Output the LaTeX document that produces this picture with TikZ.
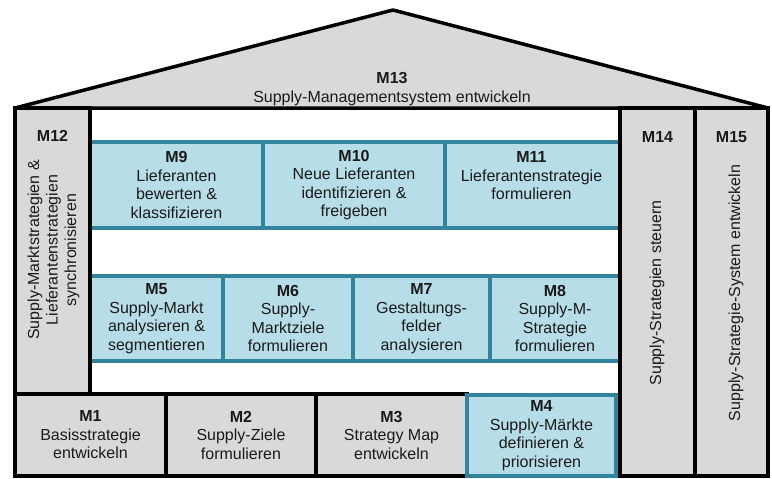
\documentclass[tikz,border=0pt]{standalone}
\usepackage{fontspec}
\setmainfont{Liberation Sans}
\usetikzlibrary{calc}
\definecolor{roofgray}{HTML}{D9D9D9}
\definecolor{tealfill}{HTML}{B7DDE8}
\definecolor{tealline}{HTML}{31849B}
\definecolor{txtcol}{HTML}{1A1A1A}
\begin{document}
\begin{tikzpicture}[x=1pt,y=-1pt,
  graybox/.style={draw=black, line width=3.5pt, fill=roofgray, inner sep=0pt, rectangle, text=txtcol, align=center, font=\fontsize{16}{18.5}\selectfont},
  tealbox/.style={draw=tealline, line width=3.5pt, fill=tealfill, inner sep=0pt, rectangle, text=txtcol, align=center, font=\fontsize{16}{18.5}\selectfont},
  txt/.style={align=center, inner sep=0pt, text=txtcol, font=\fontsize{16}{18.5}\selectfont},
  ttl/.style={inner sep=0pt, text=txtcol, font=\fontsize{16}{18.5}\selectfont\bfseries},
  roofline/.style={draw=black, line width=3.5pt, fill=roofgray, line join=round}
]
\useasboundingbox (0,0) rectangle (772,479);

% roof
\draw[roofline] (15,108) -- (393,10) -- (768,108) -- cycle;
\node[txt] (m13) at (392,89) {\textbf{M13}\\Supply-Managementsystem entwickeln};

% upper teal row
\node[tealbox, minimum width=173pt, minimum height=86pt] (m9) at (176.5,185) {\textbf{M9}\\Lieferanten\\bewerten \&\\klassifizieren};
\node[tealbox, minimum width=182pt, minimum height=86pt] (m10) at (354,185) {\textbf{M10}\\Neue Lieferanten\\identifizieren \&\\freigeben};
\node[tealbox, minimum width=175pt, minimum height=86pt] (m11) at (532.5,185) {};
\node[txt] (m11t) at (531.5,176) {\textbf{M11}\\Lieferantenstrategie\\formulieren};

% lower teal row
\node[tealbox, minimum width=133pt, minimum height=85pt] (m5) at (156.5,318.5) {\textbf{M5}\\Supply-Markt\\analysieren \&\\segmentieren};
\node[tealbox, minimum width=130pt, minimum height=85pt] (m6) at (288,318.5) {\textbf{M6}\\Supply-\\Marktziele\\formulieren};
\node[tealbox, minimum width=137pt, minimum height=85pt] (m7) at (421.5,318.5) {\textbf{M7}\\Gestaltungs-\\felder\\analysieren};
\node[tealbox, minimum width=130pt, minimum height=85pt] (m8) at (555,318.5) {\textbf{M8}\\Supply-M-\\Strategie\\formulieren};

% left column
\node[graybox, minimum width=75pt, minimum height=286pt] (m12) at (52.5,251) {};
\node[ttl] (m12h) at (52.5,136) {M12};
\node[txt, rotate=90] (m12t) at (53.5,250) {Supply-Marktstrategien \&\\Lieferantenstrategien\\synchronisieren};

% bottom row
\node[graybox, minimum width=151pt, minimum height=82pt] (m1) at (90.5,435) {\textbf{M1}\\Basisstrategie\\entwickeln};
\node[graybox, minimum width=150pt, minimum height=82pt] (m2) at (241,435) {\textbf{M2}\\Supply-Ziele\\formulieren};
\node[graybox, minimum width=151pt, minimum height=82pt] (m3) at (391.5,435) {\textbf{M3}\\Strategy Map\\entwickeln};
\node[tealbox, minimum width=149pt, minimum height=81pt] (m4) at (541.5,435.5) {\textbf{M4}\\Supply-Märkte\\definieren \&\\priorisieren};

% right columns
\node[graybox, minimum width=75pt, minimum height=368pt] (m14) at (657.5,292) {};
\node[ttl] (m14h) at (657.5,137) {M14};
\node[txt, rotate=90] (m14t) at (657,293) {Supply-Strategien steuern};
\node[graybox, minimum width=73pt, minimum height=368pt] (m15) at (731.5,292) {};
\node[ttl] (m15h) at (731.5,137) {M15};
\node[txt, rotate=90] (m15t) at (736,293) {Supply-Strategie-System entwickeln};
\end{tikzpicture}
\end{document}
